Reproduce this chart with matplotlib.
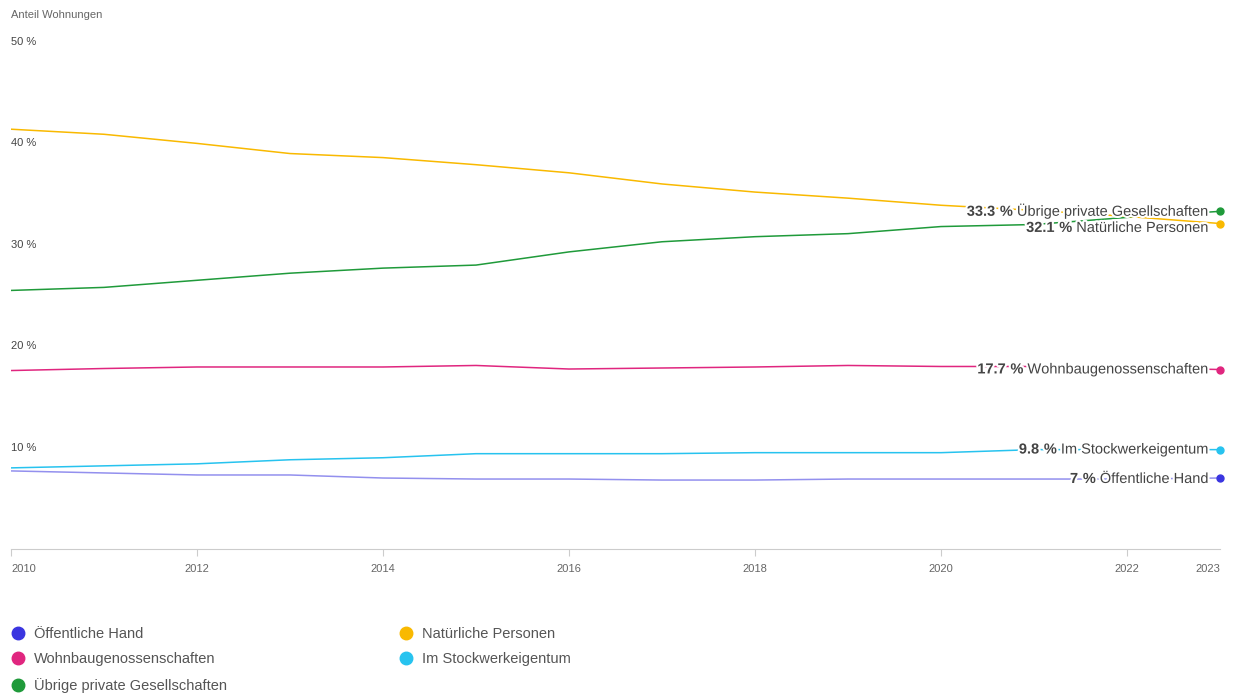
import matplotlib

matplotlib.use("Agg")
import matplotlib.pyplot as plt
import matplotlib.patheffects as pe
from matplotlib.lines import Line2D

years = list(range(2010, 2024))

series_names = [
    "Öffentliche Hand",
    "Wohnbaugenossenschaften",
    "Übrige private Gesellschaften",
    "Natürliche Personen",
    "Im Stockwerkeigentum",
]
oeffentliche_hand = [7.7, 7.5, 7.3, 7.3, 7.0, 6.9, 6.9, 6.8, 6.8, 6.9, 6.9, 6.9, 6.9, 7.0]
wohnbaugenossenschaften = [17.6, 17.8, 17.95, 17.95, 17.95, 18.1, 17.75, 17.85, 17.95, 18.1, 18.0, 18.0, 17.9, 17.7]
uebrige_private = [25.5, 25.8, 26.5, 27.2, 27.7, 28.0, 29.3, 30.3, 30.8, 31.1, 31.8, 32.0, 32.7, 33.3]
natuerliche_personen = [41.4, 40.9, 40.0, 39.0, 38.6, 37.9, 37.1, 36.0, 35.2, 34.6, 33.9, 33.4, 32.8, 32.1]
stockwerkeigentum = [8.0, 8.2, 8.4, 8.8, 9.0, 9.4, 9.4, 9.4, 9.5, 9.5, 9.5, 9.8, 9.8, 9.8]
values = [oeffentliche_hand, wohnbaugenossenschaften, uebrige_private, natuerliche_personen, stockwerkeigentum]

colors = ["#3a35e0", "#e0267f", "#1f9a3a", "#f9b900", "#27c3ef"]
label_shift_down_px = [0, 0, 0, 4, 0]  # end labels moved down to avoid overlap

x_ticks = [2010, 2012, 2014, 2016, 2018, 2020, 2022, 2023]
y_ticks = [10, 20, 30, 40, 50]

plt.rcParams["font.family"] = ["Liberation Sans", "DejaVu Sans"]
plt.rcParams["mathtext.fontset"] = "custom"
plt.rcParams["mathtext.rm"] = "Liberation Sans"
plt.rcParams["mathtext.bf"] = "Liberation Sans:bold"

W, H = 1235, 697
fig = plt.figure(figsize=(W / 100, H / 100), dpi=100)
ax = fig.add_axes([11 / W, (H - 549) / H, 1209 / W, 507 / H])

for name, vals, color, dy in zip(series_names, values, colors, label_shift_down_px):
    ax.plot(years, vals, color=color, lw=1.1, alpha=0.55 if name == "Öffentliche Hand" else 1.0, zorder=2)
    ax.plot(years[-1], vals[-1], "o", color=color, ms=5, clip_on=False, zorder=4)
    label = r"$\bf{%s\ \%%}$ %s" % (f"{vals[-1]:g}", name)
    ax.annotate(
        label,
        xy=(years[-1], vals[-1]),
        xytext=(-10, -dy),
        textcoords="offset pixels",
        ha="right",
        va="center",
        fontsize=10.5,
        color="#444444",
        zorder=3,
        path_effects=[pe.withStroke(linewidth=3, foreground="white")],
    )

ax.set_xlim(2010, 2023)
ax.set_ylim(0, 50)
for side in ["top", "right", "left"]:
    ax.spines[side].set_visible(False)
ax.spines["bottom"].set_color("#cccccc")
ax.set_yticks([])
ax.set_xticks(x_ticks)
ax.set_xticklabels([str(x) for x in x_ticks])
ax.tick_params(axis="x", length=5, color="#cccccc", labelsize=8, labelcolor="#666666", pad=6)
tick_labels = ax.get_xticklabels()
tick_labels[0].set_ha("left")
tick_labels[-1].set_ha("right")
ax.xaxis.get_major_ticks()[-1].tick1line.set_visible(False)

for v in y_ticks:
    ax.text(0, v, f"{v} %", transform=ax.get_yaxis_transform(), ha="left", va="center",
            fontsize=8, color="#444444")

fig.text(11 / W, 1 - 15 / H, "Anteil Wohnungen", ha="left", va="center", fontsize=8, color="#666666")

handles = [
    Line2D([], [], ls="none", marker="o", ms=9, color=c) for c in colors
]
fig.legend(
    handles,
    series_names,
    loc="upper left",
    bbox_to_anchor=(11 / W, 1 - 627 / H),
    ncol=2,
    frameon=False,
    fontsize=10.5,
    labelcolor="#555555",
    handlelength=1.0,
    handletextpad=0.6,
    labelspacing=0.78,
    columnspacing=11.75,
    borderpad=0,
    borderaxespad=0,
)

fig.savefig("out.png", dpi=100)
